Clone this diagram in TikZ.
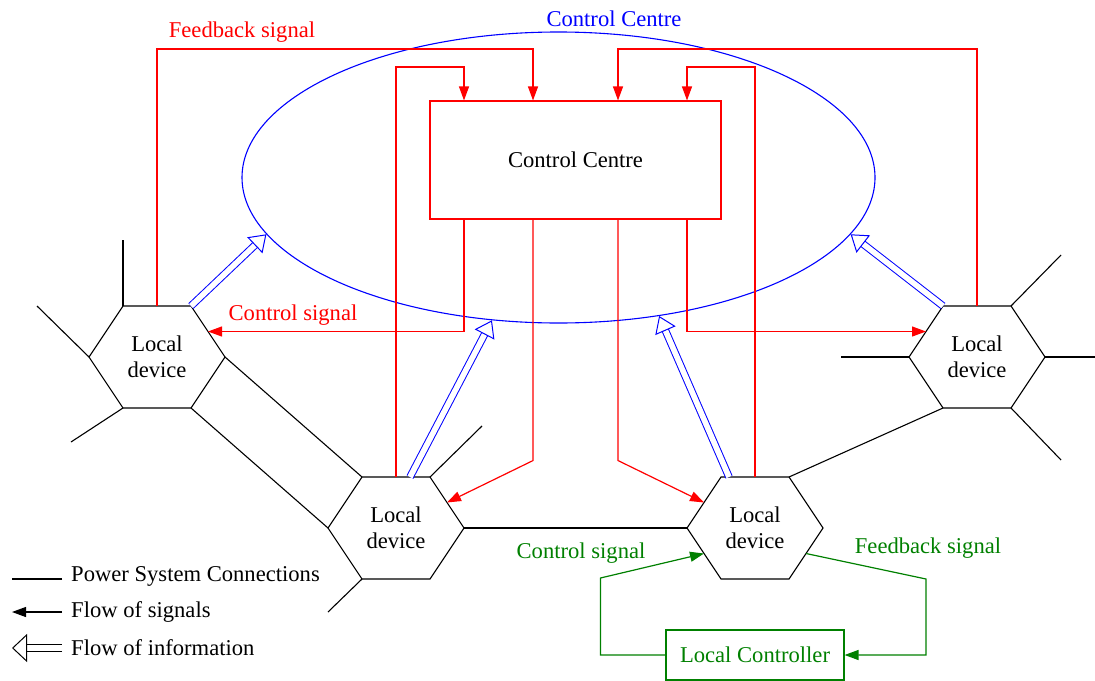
\documentclass[tikz,border=0pt]{standalone}
\usepackage{fontspec}
\setmainfont{Liberation Serif}
\usetikzlibrary{arrows.meta,calc,shapes.geometric}

% one hexagonal local device with named corners
\newcommand{\localdevice}[2]{%
  \begin{scope}[shift={(#2)}]
    \node[align=center] (#1) at (0,0) {Local\\device};
    \coordinate (#1-e) at (68,0);   \coordinate (#1-ne) at (34,-51);
    \coordinate (#1-nw) at (-34,-51); \coordinate (#1-w) at (-68,0);
    \coordinate (#1-sw) at (-34,51); \coordinate (#1-se) at (34,51);
    \coordinate (#1-n) at (0,-51);
    \draw (#1-e) -- (#1-ne) -- (#1-nw) -- (#1-w) -- (#1-sw) -- (#1-se) -- cycle;
  \end{scope}}

\begin{document}
\begin{tikzpicture}[x=0.5pt, y=-0.5pt, line width=0.55pt, font=\fontsize{11.3}{13}\selectfont,
  sig/.style={draw=red, line width=0.6pt, -{Triangle[length=7pt,width=5pt,fill=red]}},
  lsig/.style={draw=green!50!black, line width=0.6pt, -{Triangle[length=7pt,width=5pt,fill=green!50!black]}},
  info/.style={draw=blue, double, double distance=2.8pt, line width=0.5pt, -{Triangle[open,length=8pt,width=11pt]}}]
	\useasboundingbox (0,0) rectangle (1095,680);
	% control centre
	\node[ellipse, draw=blue, inner sep=0, minimum width=316.5pt, minimum height=145.5pt] (ce) at (558.5,177.5) {};
	\node[text=blue] (celabel) at (614,19) {Control Centre};
	\node[draw=red, minimum width=145.5pt, minimum height=59pt] (cc) at (575.5,160) {Control Centre};
	% local devices
	\localdevice{ld1}{157,357}
	\localdevice{ld2}{396,528}
	\localdevice{ld3}{755,528}
	\localdevice{ld4}{977,357}
	% power system connections
	\draw (ld1-e) -- (ld2-nw);
	\draw (ld1-se) -- (ld2-w);
	\draw (ld2-e) -- (ld3-w);
	\draw (ld3-ne) -- (ld4-sw);
	\draw (ld1-nw) -- ++(0,-66);
	\draw (ld1-w) -- ++(-52,-51);
	\draw (ld1-sw) -- ++(-52,34);
	\draw (ld2-ne) -- ++(52,-51);
	\draw (ld2-sw) -- ++(-34,33);
	\draw (ld4-w) -- ++(-68,0);
	\draw (ld4-ne) -- ++(50,-51);
	\draw (ld4-e) -- ++(50,0);
	\draw (ld4-se) -- ++(50,52);
	% feedback signals
	\draw[sig] (ld1-n) -- ++(0,-257) -| ($(cc.north)+(-42.5,0)$);
	\draw[sig] (ld2-n) -- ++(0,-410) -| ($(cc.north)+(-111.5,0)$);
	\draw[sig] (ld3-n) -- ++(0,-410) -| ($(cc.north)+(111.5,0)$);
	\draw[sig] (ld4-n) -- ++(0,-257) -| ($(cc.north)+(42.5,0)$);
	\node[text=red] (fblabel) at (242,32) {Feedback signal};
	% control signals
	\draw[sig] ($(cc.south)+(-111.5,0)$) |- ($(ld1-ne)!.5!(ld1-e)$);
	\draw[sig] ($(cc.south)+(111.5,0)$) |- ($(ld4-nw)!.5!(ld4-w)$);
	\draw[sig] ($(cc.south)+(-42.5,0)$) -- ++(0,241) -- ($(ld2-ne)!.5!(ld2-e)$);
	\draw[sig] ($(cc.south)+(42.5,0)$) -- ++(0,241) -- ($(ld3-nw)!.5!(ld3-w)$);
	\node[text=red] (cslabel) at (293,315) {Control signal};
	% flow of information
	\draw[info] (ld1-ne) -- (ce.191.8);
	\draw[info] ($(ld2-n)+(14,0)$) -- (ce.245.6);
	\draw[info] ($(ld3-n)+(-26,0)$) -- (ce.306.5);
	\draw[info] (ld4-nw) -- (ce.349.3);
	% local controller
	\node[draw=green!50!black, text=green!50!black, minimum width=89pt, minimum height=25pt] (lc) at (755,655) {Local Controller};
	\draw[lsig] (lc.west) -- ++(-65,0) -- ++(0,-77) -- ($(ld3-w)!.5!(ld3-sw)$);
	\draw[lsig] ($(ld3-e)!.5!(ld3-se)$) -- ++(120,25.5) |- (lc.east);
	\node[text=green!50!black] (lcs) at (581,553) {Control signal};
	\node[text=green!50!black] (lfs) at (928,548) {Feedback signal};
	% legend
	\node[anchor=west] (lg1) at (64,576) {Power System Connections};
	\node[anchor=west] (lg2) at (64,612) {Flow of signals};
	\node[anchor=west] (lg3) at (64,648) {Flow of information};
	\draw ($(lg1.west)+(-2,3)$) -- ++(-50,0);
	\draw[-{Triangle[length=7pt,width=5pt]}] ($(lg2.west)+(-2,0)$) -- ++(-50,0);
	\draw[double, double distance=3pt, line width=0.5pt, -{Triangle[open,length=7.5pt,width=14pt]}] ($(lg3.west)+(-2,0)$) -- ++(-50,0);
\end{tikzpicture}
\end{document}
